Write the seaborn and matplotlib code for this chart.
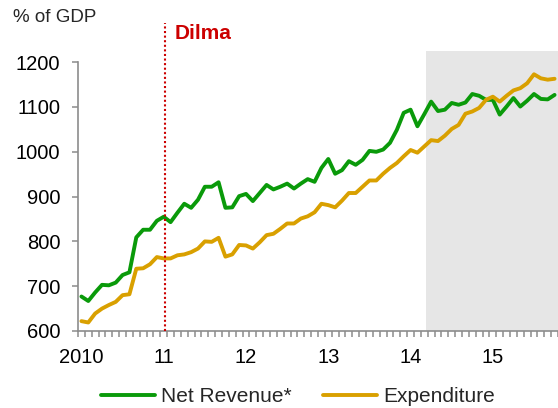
import numpy as np
import pandas as pd
import matplotlib
matplotlib.use("Agg")
import matplotlib.pyplot as plt
import seaborn as sns

# ---- data (monthly, Jan 2010 .. Oct 2015) ----
net_revenue = [677, 667, 686, 703, 702, 708, 725, 731, 809, 826,
               826, 846, 855, 843, 864, 884, 875, 893, 922, 922,
               932, 875, 876, 901, 906, 890, 908, 926, 916, 922,
               929, 918, 929, 939, 933, 964, 984, 951, 959, 979,
               971, 982, 1002, 1000, 1005, 1020, 1049, 1087, 1094, 1057,
               1084, 1112, 1091, 1094, 1109, 1105, 1110, 1129, 1125, 1116,
               1116, 1083, 1101, 1120, 1101, 1114, 1129, 1118, 1117, 1127]
expenditure = [622, 619, 639, 650, 658, 665, 680, 682, 739, 740,
               749, 765, 762, 762, 769, 771, 776, 784, 800, 799,
               808, 766, 771, 792, 791, 784, 798, 814, 817, 828,
               840, 840, 851, 856, 865, 884, 881, 876, 891, 908,
               908, 922, 936, 936, 951, 964, 975, 990, 1004, 998,
               1012, 1026, 1024, 1036, 1051, 1060, 1085, 1090, 1098, 1116,
               1123, 1112, 1125, 1137, 1142, 1153, 1173, 1164, 1161, 1163]
year_labels = ["2010", "11", "12", "13", "14", "15"]
y_ticks = [600, 700, 800, 900, 1000, 1100, 1200]
series_names = ["Net Revenue*", "Expenditure"]
dilma_month = 12.2      # Jan 2011 (Dilma takes office)
shade_start = 50.25     # ~Mar 2014

months = np.arange(len(net_revenue))
df = pd.DataFrame({
    "month": np.concatenate([months, months]),
    "value": net_revenue + expenditure,
    "series": [series_names[0]] * len(months) + [series_names[1]] * len(months),
})

sns.set_theme(style="white")
plt.rcParams["font.family"] = ["Liberation Sans", "DejaVu Sans"]

GREEN = "#0A9A0A"
GOLD = "#D9A000"
RED = "#CC0000"
GREY = "#8C8C8C"

fig = plt.figure(figsize=(5.58, 4.08), dpi=100)
ax = fig.add_axes([78 / 558, (408 - 331) / 408, 1 - 78 / 558, (331 - 51) / 408])

ax.axvspan(shade_start, 70, color="#E6E6E6", zorder=0, lw=0)

sns.lineplot(data=df, x="month", y="value", hue="series",
             palette={series_names[0]: GREEN, series_names[1]: GOLD},
             linewidth=2.8, ax=ax, legend=True, zorder=3)

ax.set_xlim(-0.5, 69.5)
ax.set_ylim(600, 1225)
ax.set_xlabel("")
ax.set_ylabel("")

ax.set_yticks(y_ticks)
ax.set_yticklabels([str(v) for v in y_ticks])
ax.set_xticks(np.arange(len(year_labels)) * 12)
ax.set_xticklabels(year_labels)
ax.set_xticks(np.arange(-0.5, 70, 1.0), minor=True)

ax.tick_params(axis="y", which="major", length=4.3, width=1.1, color=GREY,
               direction="out", pad=8.5, labelsize=14.5, labelcolor="black", left=True)
ax.tick_params(axis="x", which="major", length=0, pad=12, labelsize=14.5,
               labelcolor="black")
ax.tick_params(axis="x", which="minor", length=4.5, width=1.1, color=GREY,
               direction="out", bottom=True)

for s in ["top", "right"]:
    ax.spines[s].set_visible(False)
for s in ["left", "bottom"]:
    ax.spines[s].set_color(GREY)
    ax.spines[s].set_linewidth(1.2)
ax.spines["left"].set_bounds(600, 1200)
ax.grid(False)

# Dilma marker
ax.plot([dilma_month, dilma_month], [600, 1288], linestyle=(0, (1, 1.2)),
        color=RED, lw=1.5, clip_on=False, zorder=4)
ax.text(13.6, 1263, "Dilma", color=RED, fontsize=15, fontweight="bold",
        va="center", ha="left", clip_on=False)

fig.text(13 / 558, 1 - 18 / 408, "% of GDP", fontsize=13.5, va="center", ha="left")

handles, labels = ax.get_legend_handles_labels()
ax.get_legend().remove()
for h in handles:
    h.set_linewidth(2.8)
fig.legend(handles, labels, loc="center", bbox_to_anchor=(0.534, 0.027),
           ncol=2, frameon=False, fontsize=15, handlelength=2.6,
           handletextpad=0.3, columnspacing=1.5, borderpad=0)

fig.savefig("out.png", dpi=100)
